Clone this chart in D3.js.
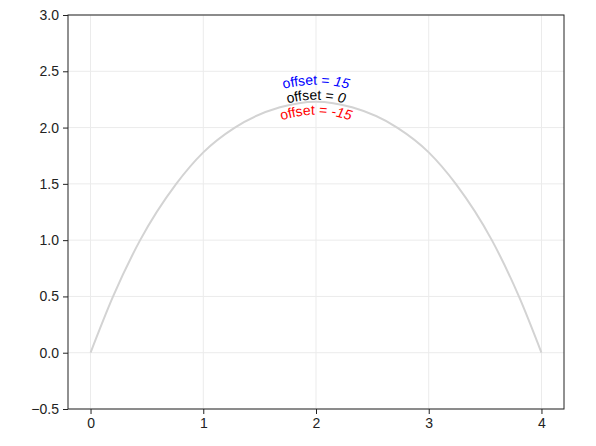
<!DOCTYPE html>
<html>
<head>
<meta charset="utf-8">
<script src="https://cdn.jsdelivr.net/npm/d3@7"></script>
<style>
  body { margin: 0; background: #fff; }
  svg { display: block; font-family: "Liberation Sans", Arial, Helvetica, sans-serif; }
</style>
</head>
<body>
<div class="d3"></div>
<script>
// curve
var xs = [0, 0.2, 0.44, 0.76, 1.0, 1.28, 1.68, 2.0, 2.32, 2.72, 3.0, 3.24, 3.56, 3.8, 4.0];
var ys = [0, 0.5, 1.0, 1.5, 1.78, 2.0, 2.18, 2.23, 2.18, 2.0, 1.78, 1.5, 1.0, 0.5, 0];

var xTicks = [0, 1, 2, 3, 4];
var yTicks = [-0.5, 0, 0.5, 1.0, 1.5, 2.0, 2.5, 3.0];

var labelOffsets = [15, 0, -15];
var labelColors = ["#0000ff", "#000000", "#ff0000"];

var margin = {top: 15, right: 32, bottom: 37, left: 68},
    W = 596, H = 446,
    width = W - margin.left - margin.right,
    height = H - margin.top - margin.bottom;

var x = d3.scaleLinear().domain([-0.2, 4.2]).range([0, width]);
var y = d3.scaleLinear().domain([-0.5, 3.0]).range([height, 0]);

var svg = d3.select(".d3").append("svg")
    .attr("width", W)
    .attr("height", H)
  .append("g")
    .attr("transform", "translate(" + margin.left + "," + margin.top + ")");

// grid
svg.append("g").selectAll("line")
    .data(xTicks)
  .enter().append("line")
    .attr("x1", function(d) { return x(d); })
    .attr("x2", function(d) { return x(d); })
    .attr("y1", 0).attr("y2", height)
    .attr("stroke", "#ebebeb").attr("stroke-width", 1);

svg.append("g").selectAll("line")
    .data(yTicks)
  .enter().append("line")
    .attr("y1", function(d) { return y(d); })
    .attr("y2", function(d) { return y(d); })
    .attr("x1", 0).attr("x2", width)
    .attr("stroke", "#ebebeb").attr("stroke-width", 1);

var pts = xs.map(function(d, i) { return [d, ys[i]]; });

var line = d3.line()
    .x(function(d) { return x(d[0]); })
    .y(function(d) { return y(d[1]); })
    .curve(d3.curveMonotoneX);

var curve = svg.append("path")
    .attr("d", line(pts))
    .attr("fill", "none")
    .attr("stroke", "#d3d3d3")
    .attr("stroke-width", 2);

// offset copies of the curve for the labels (shifted along the normal, in px)
var node = curve.node(),
    len = node.getTotalLength(),
    samples = d3.range(0, 201).map(function(i) { return node.getPointAtLength(len * i / 200); });

var defs = svg.append("defs");

labelOffsets.forEach(function(off, i) {
  var shift = off + 2;
  var shifted = samples.map(function(p, k) {
    var a = samples[Math.max(0, k - 1)], b = samples[Math.min(samples.length - 1, k + 1)];
    var dx = b.x - a.x, dy = b.y - a.y, n = Math.sqrt(dx * dx + dy * dy) || 1;
    // normal pointing up (screen) for positive offsets
    return [p.x + dy / n * shift, p.y - dx / n * shift];
  });
  defs.append("path")
      .attr("id", "lab" + i)
      .attr("d", d3.line()(shifted));

  var t = svg.append("text")
      .attr("font-size", 14)
      .attr("fill", labelColors[i]);
  var tp = t.append("textPath")
      .attr("href", "#lab" + i)
      .attr("startOffset", "50%")
      .attr("text-anchor", "middle");
  tp.append("tspan").text("offset = ");
  tp.append("tspan").attr("font-style", "italic").text(String(off));
});

// axes
var xAxis = d3.axisBottom(x).tickValues(xTicks).tickSize(5).tickPadding(4)
    .tickFormat(d3.format("d"));
var yAxis = d3.axisLeft(y).tickValues(yTicks).tickSize(5).tickPadding(4)
    .tickFormat(function(d) { return d3.format(".1f")(d).replace("-", "\u2212"); });

var gx = svg.append("g")
    .attr("transform", "translate(0," + height + ")")
    .call(xAxis);
var gy = svg.append("g").call(yAxis);

[gx, gy].forEach(function(g) {
  g.select(".domain").remove();
  g.selectAll("line").attr("stroke", "#222");
  g.selectAll("text").attr("font-size", 14).attr("fill", "#222")
      .style("font-family", "'Liberation Sans', Arial, sans-serif");
});

svg.append("rect")
    .attr("width", width)
    .attr("height", height)
    .attr("fill", "none")
    .attr("stroke", "#222")
    .attr("stroke-width", 1);
</script>
</body>
</html>
